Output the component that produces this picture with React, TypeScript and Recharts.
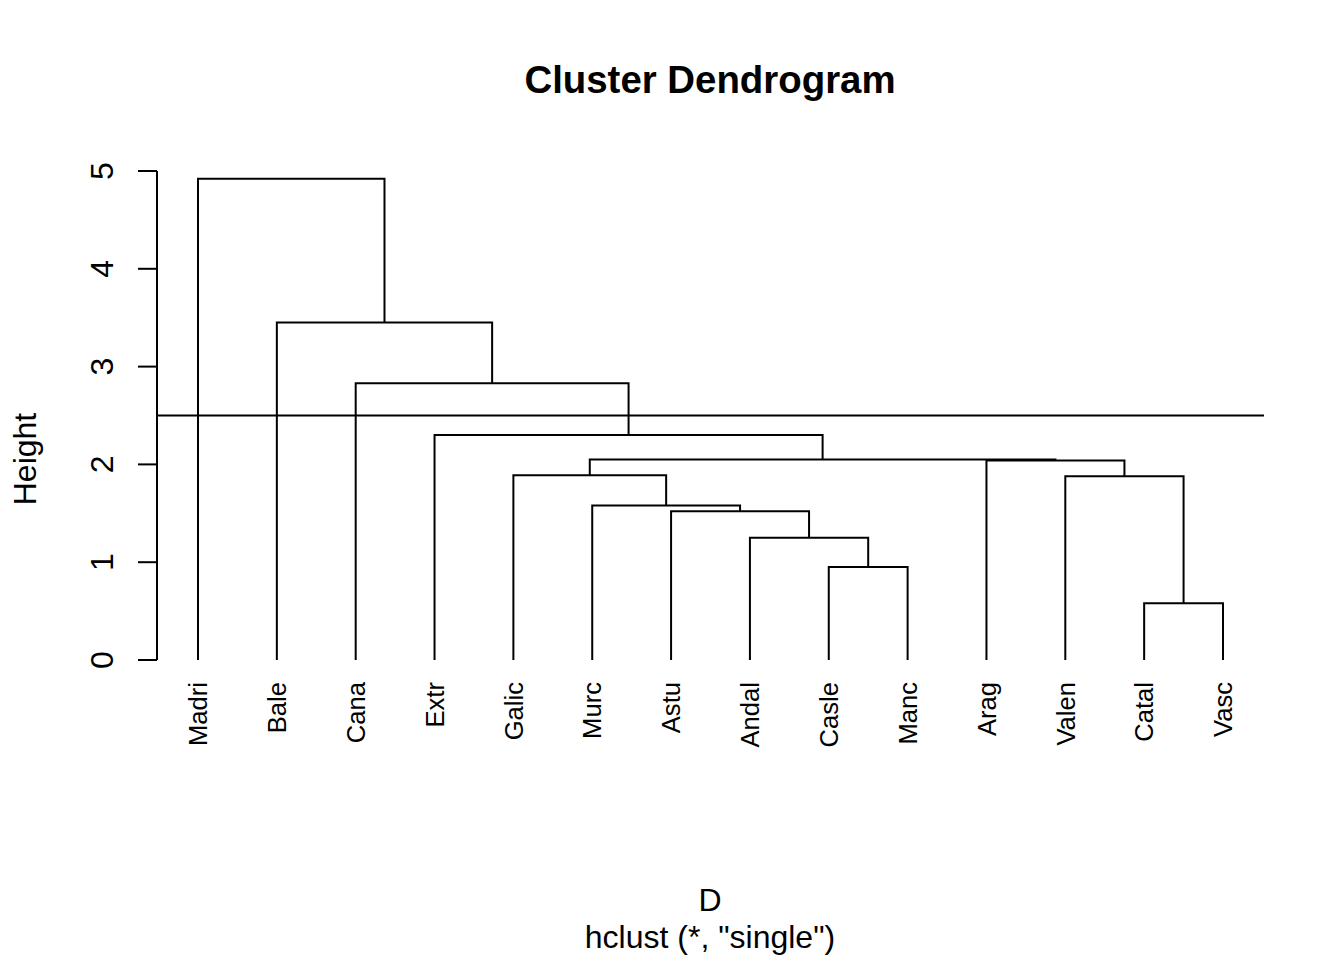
import { ComposedChart, Line, XAxis, YAxis, ReferenceLine } from 'recharts';

// leaves in dendrogram order
const leafLabels = ['Madri', 'Bale', 'Cana', 'Extr', 'Galic', 'Murc', 'Astu', 'Andal', 'Casle', 'Manc', 'Arag', 'Valen', 'Catal', 'Vasc'];

// hclust-style merge table: negative = leaf position, positive = earlier merge step
const mergeLeft = [-13, -9, -8, -7, -6, -12, -5, -11, 7, -4, -3, -2, -1];
const mergeRight = [-14, -10, 2, 3, 4, 1, 5, 6, 8, 9, 10, 11, 12];
const mergeHeight = [0.58, 0.95, 1.25, 1.52, 1.58, 1.88, 1.89, 2.04, 2.05, 2.3, 2.83, 3.45, 4.92];

const heightTicks = [0, 1, 2, 3, 4, 5];
const cutHeight = 2.5;

const FONT = '"Liberation Sans", Arial, sans-serif';

type Pt = { x: number; y: number };

const nodeX: number[] = [];
const branches: Pt[][] = [];
for (let i = 0; i < mergeHeight.length; i++) {
    const l = mergeLeft[i];
    const r = mergeRight[i];
    const xl = l < 0 ? -l : nodeX[l - 1];
    const xr = r < 0 ? -r : nodeX[r - 1];
    const hl = l < 0 ? 0 : mergeHeight[l - 1];
    const hr = r < 0 ? 0 : mergeHeight[r - 1];
    const h = mergeHeight[i];
    nodeX[i] = (xl + xr) / 2;
    branches.push([
        { x: xl, y: hl },
        { x: xl, y: h },
        { x: xr, y: h },
        { x: xr, y: hr },
    ]);
}

const leafTicks = leafLabels.map((_, i) => i + 1);

const LeafTick = (props: any) => {
    const { x, y, payload } = props;
    return (
        <text
            x={x}
            y={y}
            dy="0.36em"
            transform={`rotate(-90, ${x}, ${y})`}
            textAnchor="end"
            fontFamily={FONT}
            fontSize={25.6}
            fill="#000"
        >
            {leafLabels[payload.value - 1]}
        </text>
    );
};

const HeightTick = (props: any) => {
    const { x, y, payload } = props;
    return (
        <text
            x={x}
            y={y}
            transform={`rotate(-90, ${x}, ${y})`}
            textAnchor="middle"
            fontFamily={FONT}
            fontSize={32}
            fill="#000"
        >
            {payload.value}
        </text>
    );
};

export default function App() {
    return (
        <div style={{ position: 'absolute', left: 0, top: 0, width: 1344, height: 960, background: '#fff' }}>
            <ComposedChart
                width={1344}
                height={960}
                margin={{ top: 171, right: 80, left: 37, bottom: 200 }}
            >
                <XAxis
                    type="number"
                    dataKey="x"
                    domain={[0.48, 14.52]}
                    allowDataOverflow
                    ticks={leafTicks}
                    interval={0}
                    axisLine={false}
                    tickLine={false}
                    tickSize={0}
                    tickMargin={22}
                    height={100}
                    tick={<LeafTick />}
                />
                <YAxis
                    type="number"
                    domain={[0, 5]}
                    ticks={heightTicks}
                    interval={0}
                    width={120}
                    tickSize={19}
                    tickMargin={25}
                    axisLine={{ stroke: '#000', strokeWidth: 2 }}
                    tickLine={{ stroke: '#000', strokeWidth: 2 }}
                    tick={<HeightTick />}
                />
                {branches.map((b, i) => (
                    <Line
                        key={i}
                        data={b}
                        dataKey="y"
                        type="linear"
                        stroke="#000"
                        strokeWidth={2}
                        dot={false}
                        activeDot={false}
                        isAnimationActive={false}
                    />
                ))}
                <ReferenceLine y={cutHeight} stroke="#000" strokeWidth={2} />
            </ComposedChart>
            <svg
                width={1344}
                height={960}
                style={{ position: 'absolute', left: 0, top: 0, pointerEvents: 'none' }}
                fontFamily={FONT}
            >
                <text x={710} y={93} textAnchor="middle" fontSize={38.4} fontWeight="bold">
                    Cluster Dendrogram
                </text>
                <text x={36} y={459} transform="rotate(-90, 36, 459)" textAnchor="middle" fontSize={32}>
                    Height
                </text>
                <text x={710} y={911} textAnchor="middle" fontSize={32}>
                    D
                </text>
                <text x={710} y={948} textAnchor="middle" fontSize={32}>
                    hclust (*, "single")
                </text>
            </svg>
        </div>
    );
}
